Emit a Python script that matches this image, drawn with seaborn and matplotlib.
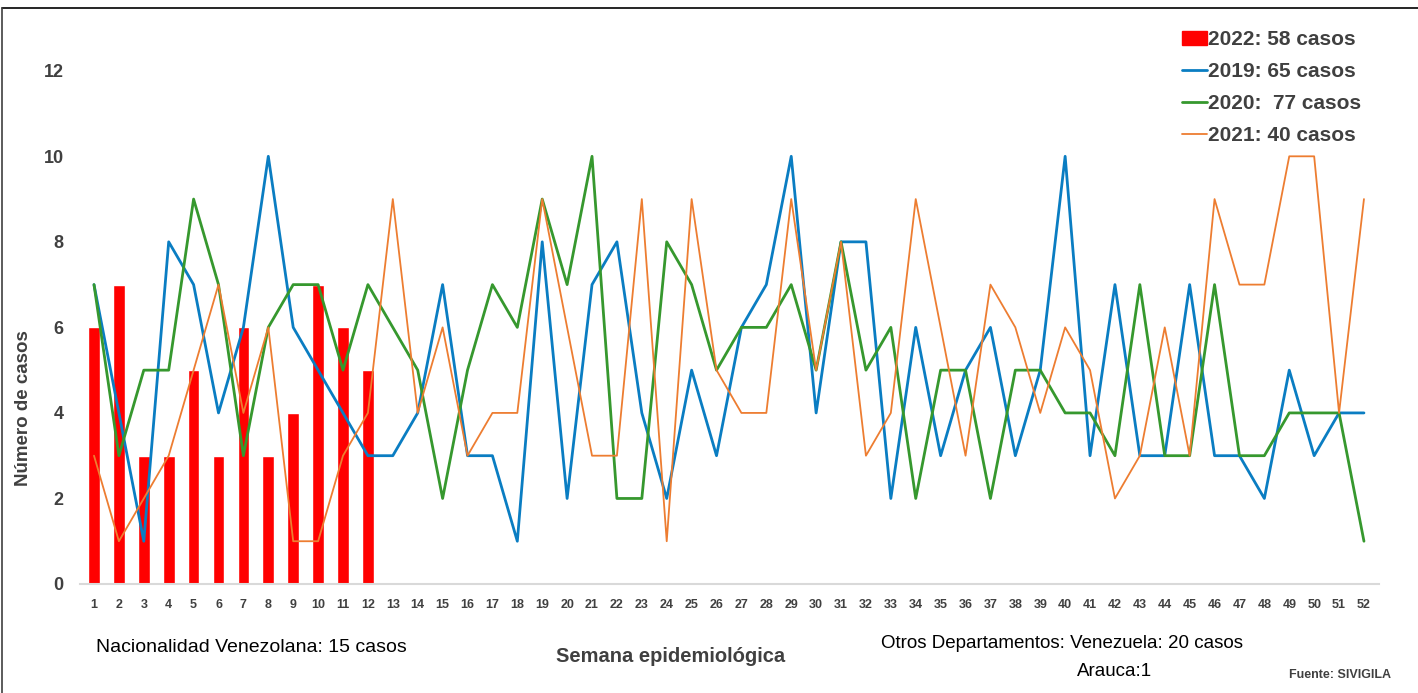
import numpy as np
import pandas as pd
import seaborn as sns
import matplotlib.pyplot as plt
from matplotlib.patches import Patch
from matplotlib.lines import Line2D

weeks = list(range(1, 53))
weeks_2022 = list(range(1, 13))
cases_2022 = [6, 7, 3, 3, 5, 3, 6, 3, 4, 7, 6, 5]
cases_2019 = [7, 4, 1, 8, 7, 4, 6, 10, 6, 5, 4, 3, 3, 4, 7, 3, 3, 1, 8, 2,
              7, 8, 4, 2, 5, 3, 6, 7, 10, 4, 8, 8, 2, 6, 3, 5, 6, 3, 5, 10,
              3, 7, 3, 3, 7, 3, 3, 2, 5, 3, 4, 4]
cases_2020 = [7, 3, 5, 5, 9, 7, 3, 6, 7, 7, 5, 7, 6, 5, 2, 5, 7, 6, 9, 7,
              10, 2, 2, 8, 7, 5, 6, 6, 7, 5, 8, 5, 6, 2, 5, 5, 2, 5, 5, 4,
              4, 3, 7, 3, 3, 7, 3, 3, 4, 4, 4, 1]
cases_2021 = [3, 1, 2, 3, 5, 7, 4, 6, 1, 1, 3, 4, 9, 4, 6, 3, 4, 4, 9, 6,
              3, 3, 9, 1, 9, 5, 4, 4, 9, 5, 8, 3, 4, 9, 6, 3, 7, 6, 4, 6,
              5, 2, 3, 6, 3, 9, 7, 7, 10, 10, 4, 9]
labels = ["2022: 58 casos", "2019: 65 casos", "2020:  77 casos", "2021: 40 casos"]
y_ticks = [0, 2, 4, 6, 8, 10, 12]

c_bar = "#FF0000"
c_2019 = "#0A7DC2"
c_2020 = "#36982E"
c_2021 = "#ED7D31"
txt = "#404040"

sns.set_theme(style="white")
plt.rcParams["font.family"] = ["Liberation Sans", "DejaVu Sans"]

fig = plt.figure(figsize=(14.18, 6.93), dpi=100)
ax = fig.add_axes([80.3 / 1418, 109 / 693, 1298.6 / 1418, 556 / 693])

df22 = pd.DataFrame({"week": weeks_2022, "cases": cases_2022})
sns.barplot(data=df22, x="week", y="cases", native_scale=True, color=c_bar,
            width=0.47, saturation=1, ax=ax)

lines = pd.DataFrame({"week": weeks, "2019": cases_2019,
                      "2020": cases_2020, "2021": cases_2021})
sns.lineplot(data=lines, x="week", y="2019", color=c_2019, linewidth=2.0, ax=ax)
sns.lineplot(data=lines, x="week", y="2020", color=c_2020, linewidth=2.0, ax=ax)
sns.lineplot(data=lines, x="week", y="2021", color=c_2021, linewidth=1.3, ax=ax)

ax.set_xlim(0.45, 52.6)
ax.set_ylim(0, 13)
ax.set_xticks(weeks)
ax.set_xticklabels([str(w) for w in weeks], fontsize=9, fontweight="bold", color=txt)
ax.set_yticks(y_ticks)
ax.set_yticklabels([str(v) for v in y_ticks], fontsize=13, fontweight="bold", color=txt)
ax.tick_params(axis="x", length=0, pad=11)
ax.tick_params(axis="y", length=0, pad=12)
ax.set_xlabel("")
ax.set_ylabel("Número de casos", fontsize=13.5, fontweight="bold", color=txt)
ax.yaxis.set_label_coords(-48.3 / 1298.6, 176 / 556)
for s in ["top", "right", "left"]:
    ax.spines[s].set_visible(False)
ax.spines["bottom"].set_color("#D9D9D9")
ax.spines["bottom"].set_linewidth(1.5)
ax.grid(False)

handles = [Patch(facecolor=c_bar, edgecolor=c_bar),
           Line2D([], [], color=c_2019, linewidth=2.0),
           Line2D([], [], color=c_2020, linewidth=2.0),
           Line2D([], [], color=c_2021, linewidth=1.3)]
leg = fig.legend(handles, labels, loc="upper left",
                 bbox_to_anchor=(1172 / 1418, 1 - 20 / 693), frameon=False,
                 borderpad=0, handlelength=1.2, handletextpad=0.05,
                 labelspacing=0.62, prop={"size": 15, "weight": "bold"})
for t in leg.get_texts():
    t.set_color(txt)

fig.text(96 / 1418, 1 - 648 / 693, "Nacionalidad Venezolana: 15 casos",
         fontsize=14, color="black", va="center", ha="left")
fig.text(671 / 1418, 1 - 657 / 693, "Semana epidemiológica",
         fontsize=14.5, fontweight="bold", color=txt, va="center", ha="center")
fig.text(1062 / 1418, 1 - 644 / 693, "Otros Departamentos: Venezuela: 20 casos",
         fontsize=13.5, color="black", va="center", ha="center")
fig.text(1115 / 1418, 1 - 671 / 693, "Arauca:1",
         fontsize=13.5, color="black", va="center", ha="center")
fig.text(1340 / 1418, 1 - 675 / 693, "Fuente: SIVIGILA",
         fontsize=9, fontweight="bold", color=txt, va="center", ha="center")

fig.add_artist(Line2D([2 / 1418, 1], [1 - 8 / 693, 1 - 8 / 693],
                      color="black", linewidth=1.2, transform=fig.transFigure))
fig.add_artist(Line2D([2 / 1418, 2 / 1418], [0, 1 - 8 / 693],
                      color="#404040", linewidth=1.2, transform=fig.transFigure))

fig.savefig("out.png", dpi=100)
